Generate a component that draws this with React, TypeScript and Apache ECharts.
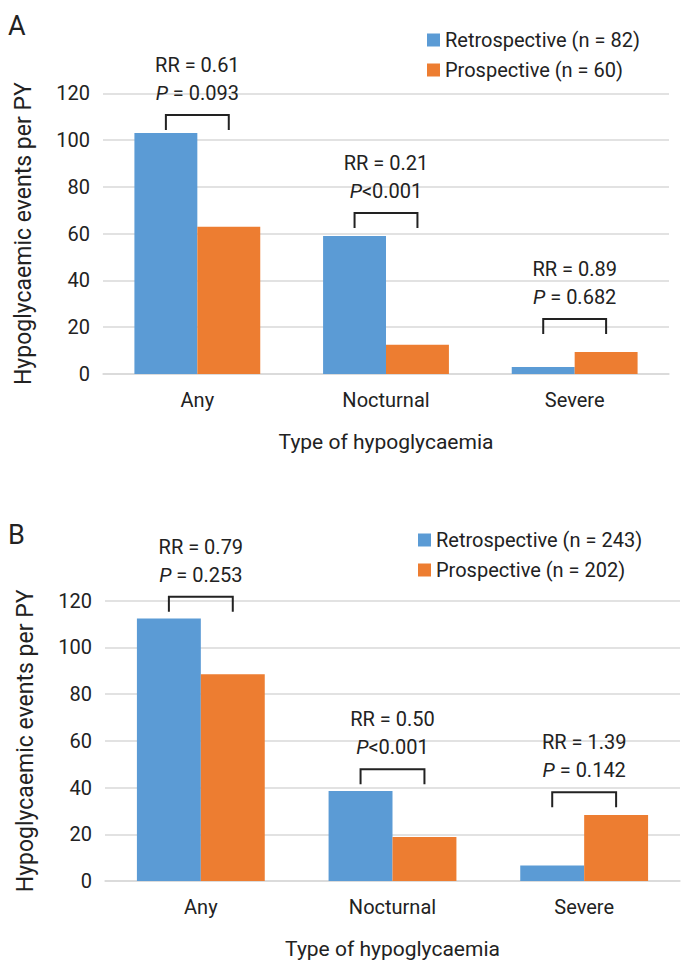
import React, { useEffect, useRef } from "react";
import * as echarts from "echarts";

const FONT = 'Roboto, "Liberation Sans", sans-serif';
const TEXT = "#222222";
const BLUE = "#5b9bd5";
const ORANGE = "#ed7d31";
const GRIDC = "#d9d9d9";

const categories = ["Any", "Nocturnal", "Severe"];

const retroNameA = "Retrospective (n = 82)";
const prospNameA = "Prospective (n = 60)";
const retroA = [103, 59, 3];
const prospA = [63, 12.5, 9.4];
const rrA = ["RR = 0.61", "RR = 0.21", "RR = 0.89"];
const pA = [" = 0.093", "<0.001", " = 0.682"];
const bracketA = [110.7, 68.8, 23.5];

const retroNameB = "Retrospective (n = 243)";
const prospNameB = "Prospective (n = 202)";
const retroB = [112.4, 38.5, 6.6];
const prospB = [88.5, 18.8, 28.3];
const rrB = ["RR = 0.79", "RR = 0.50", "RR = 1.39"];
const pB = [" = 0.253", "<0.001", " = 0.142"];
const bracketB = [121.7, 47.8, 38];

const yMin = 0;
const yMax = 120;
const yStep = 20;

const FS = 20;

function bracketSeries(gridIdx: number, levels: number[], rr: string[], p: string[]) {
  return {
    type: "custom",
    xAxisIndex: gridIdx,
    yAxisIndex: gridIdx,
    silent: true,
    z: 10,
    data: levels.map((v, i) => [i, v]),
    renderItem: (params: any, api: any) => {
      const i = params.dataIndex;
      const c = api.coord([api.value(0), api.value(1)]);
      const band = api.size([1, 0])[0];
      const bw = band / 3;
      const l = c[0] - bw / 2;
      const r = c[0] + bw / 2;
      const y = c[1];
      const leg = 15;
      return {
        type: "group",
        children: [
          {
            type: "polyline",
            shape: { points: [[l, y + leg], [l, y], [r, y], [r, y + leg]] },
            style: { stroke: TEXT, lineWidth: 2, fill: null },
          },
          {
            type: "text",
            x: c[0],
            y: y - 50,
            style: {
              text: rr[i],
              fontSize: FS,
              fontFamily: FONT,
              fill: TEXT,
              align: "center",
              verticalAlign: "middle",
            },
          },
          {
            type: "text",
            x: c[0],
            y: y - 22,
            style: {
              text: "{i|P}{n|" + p[i] + "}",
              fontSize: FS,
              fontFamily: FONT,
              fill: TEXT,
              align: "center",
              verticalAlign: "middle",
              rich: {
                i: { fontStyle: "italic", fontSize: FS, fontFamily: FONT, fill: TEXT },
                n: { fontSize: FS, fontFamily: FONT, fill: TEXT },
              },
            },
          },
        ],
      };
    },
  };
}

function xAxisCfg(gridIndex: number) {
  return {
    type: "category",
    gridIndex,
    data: categories,
    axisLine: { lineStyle: { color: GRIDC, width: 1.5 } },
    axisTick: { show: false },
    axisLabel: { fontSize: FS, fontFamily: FONT, color: TEXT, margin: 16 },
    name: "Type of hypoglycaemia",
    nameLocation: "middle",
    nameGap: 57,
    nameTextStyle: { fontSize: 21, fontFamily: FONT, color: TEXT },
  };
}

function yAxisCfg(gridIndex: number) {
  return {
    type: "value",
    gridIndex,
    min: yMin,
    max: yMax,
    interval: yStep,
    axisLine: { show: false },
    axisTick: { show: false },
    splitLine: { lineStyle: { color: GRIDC, width: 1.5 } },
    axisLabel: { fontSize: FS, fontFamily: FONT, color: TEXT, margin: 13 },
    name: "Hypoglycaemic events per PY",
    nameLocation: "middle",
    nameRotate: 90,
    nameGap: 68,
    nameTextStyle: { fontSize: 23, fontFamily: FONT, color: TEXT },
  };
}

function legendCfg(names: string[], left: number, top: number) {
  return {
    data: names,
    orient: "vertical",
    left,
    top,
    icon: "rect",
    itemWidth: 13,
    itemHeight: 13,
    itemGap: 8,
    selectedMode: false,
    textStyle: { fontSize: 20, fontFamily: FONT, color: TEXT, lineHeight: 22 },
  };
}

export default function App() {
  const ref = useRef<HTMLDivElement>(null);
  useEffect(() => {
    if (!ref.current) return;
    const chart = echarts.init(ref.current, null, { renderer: "svg" });
    const barCommon = { type: "bar", barGap: "0%", barCategoryGap: "33.3%" };
    chart.setOption({
      animation: false,
      backgroundColor: "#ffffff",
      grid: [
        { left: 103, width: 566, top: 93.3, height: 280.7 },
        { left: 105, width: 575, top: 600.7, height: 280.3 },
      ],
      xAxis: [xAxisCfg(0), xAxisCfg(1)],
      yAxis: [yAxisCfg(0), yAxisCfg(1)],
      legend: [
        legendCfg([retroNameA, prospNameA], 422, 24),
        legendCfg([retroNameB, prospNameB], 413, 524),
      ],
      graphic: [
        {
          type: "text",
          left: 8,
          top: 12,
          style: { text: "A", fontSize: 27, fontFamily: FONT, fill: TEXT },
        },
        {
          type: "text",
          left: 8,
          top: 521,
          style: { text: "B", fontSize: 27, fontFamily: FONT, fill: TEXT },
        },
      ],
      series: [
        { ...barCommon, name: retroNameA, data: retroA, xAxisIndex: 0, yAxisIndex: 0, itemStyle: { color: BLUE } },
        { ...barCommon, name: prospNameA, data: prospA, xAxisIndex: 0, yAxisIndex: 0, itemStyle: { color: ORANGE } },
        { ...barCommon, name: retroNameB, data: retroB, xAxisIndex: 1, yAxisIndex: 1, itemStyle: { color: BLUE } },
        { ...barCommon, name: prospNameB, data: prospB, xAxisIndex: 1, yAxisIndex: 1, itemStyle: { color: ORANGE } },
        bracketSeries(0, bracketA, rrA, pA),
        bracketSeries(1, bracketB, rrB, pB),
      ],
    });
    return () => chart.dispose();
  }, []);
  return (
    <div
      ref={ref}
      style={{ position: "absolute", left: 0, top: 0, width: 688, height: 975, background: "#fff" }}
    />
  );
}
